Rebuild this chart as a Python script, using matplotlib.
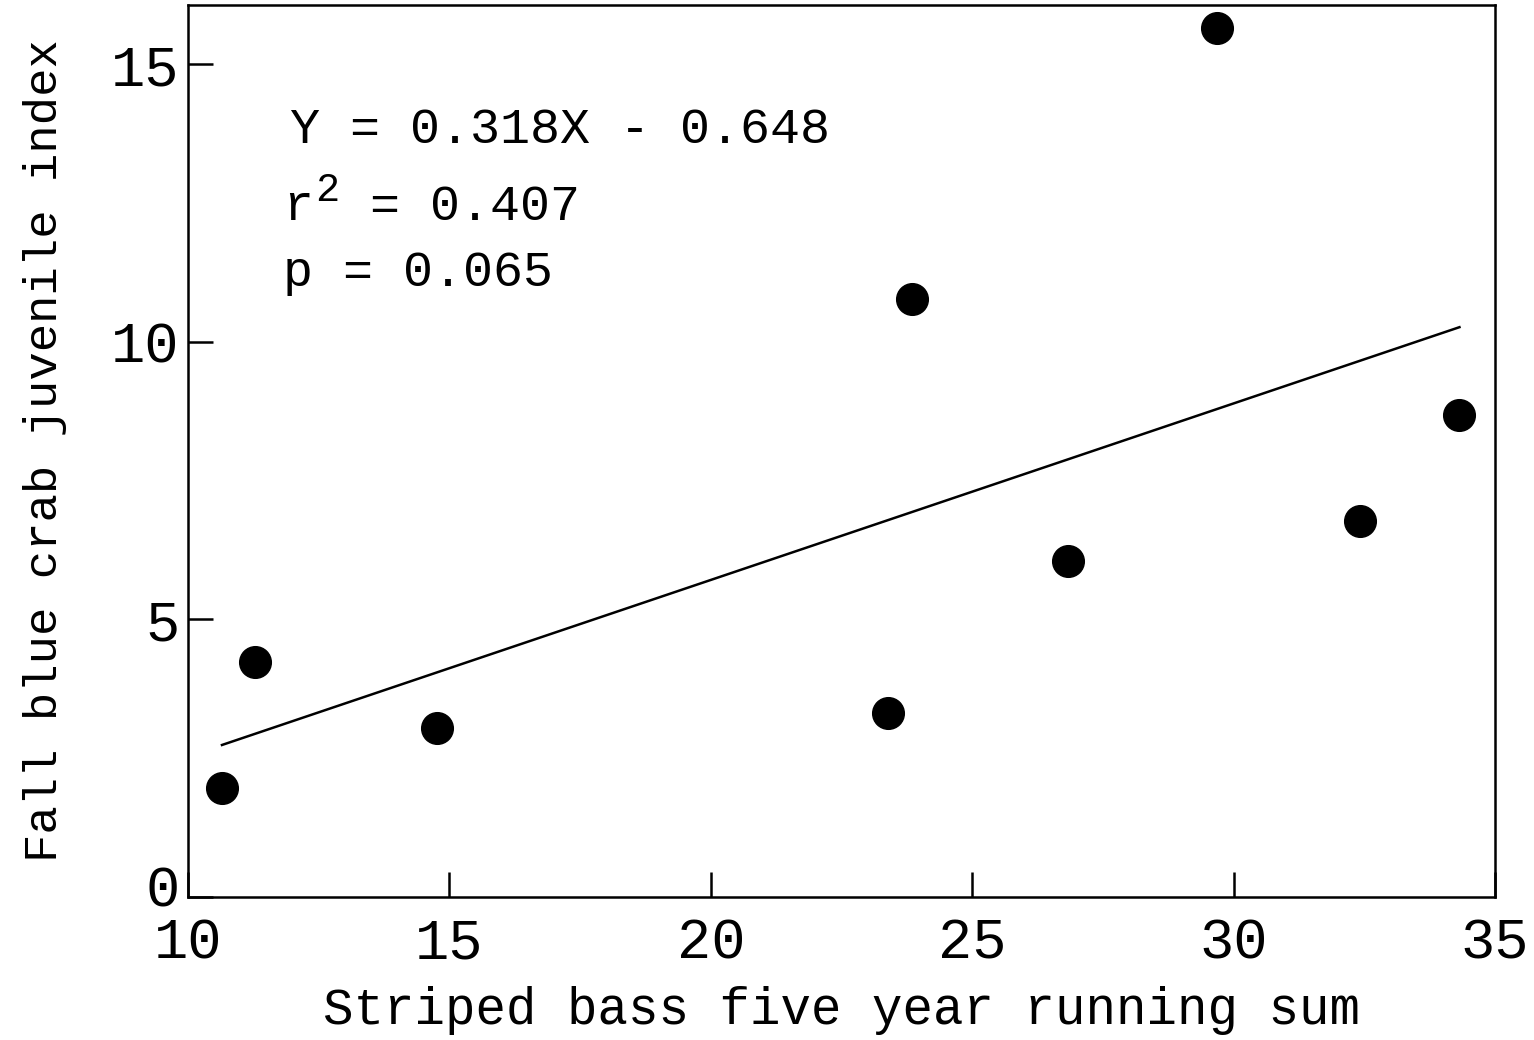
import matplotlib
matplotlib.use("Agg")
import matplotlib.pyplot as plt
import matplotlib.transforms as mtransforms
import numpy as np

bass_sum = [10.65, 11.28, 14.76, 23.38, 23.84, 26.83, 29.69, 32.41, 34.32]
crab_index = [1.96, 4.23, 3.04, 3.32, 10.77, 6.05, 15.66, 6.77, 8.68]
slope = 0.318
intercept = -0.648
x_ticks = [10, 15, 20, 25, 30, 35]
y_ticks = [0, 5, 10, 15]

plt.rcParams['font.family'] = ['Liberation Mono', 'DejaVu Sans Mono']

fig = plt.figure(figsize=(15.34, 10.4), dpi=100)
ax = fig.add_axes([188/1534, 1-897/1040, (1495-188)/1534, (897-5)/1040])

ax.scatter(bass_sum, crab_index, s=520, color='black', zorder=3)
xl = np.array([min(bass_sum), max(bass_sum)])
ax.plot(xl, slope*xl + intercept, color='black', lw=1.8)

ax.set_xlim(10, 35)
ax.set_ylim(0, 16.07)
ax.set_xticks(x_ticks)
ax.set_yticks(y_ticks)
ax.tick_params(direction='in', length=18, width=1.8, labelsize=41)
ax.tick_params(axis='x', pad=14)
ax.tick_params(axis='y', pad=6)
for s in ax.spines.values():
    s.set_linewidth(1.8)

ax.set_xlabel("Striped bass five year running sum", fontsize=36.5, labelpad=11)
ax.set_ylabel("Fall blue crab juvenile index", fontsize=34, labelpad=32)

# nudge the "0" y tick label up slightly so it clears the "10" x label
fig.canvas.draw()
lbl0 = ax.get_yticklabels()[0]
lbl0.set_transform(lbl0.get_transform() +
                   mtransforms.ScaledTranslation(0, 8/72, fig.dpi_scale_trans))

T = fig.transFigure
ax.text(290/1534, 1-130/1040, "Y = 0.318X - 0.648", transform=T,
        fontsize=36, va='center', ha='left')
ax.text(283/1534, 1-207/1040, "r", transform=T,
        fontsize=36, va='center', ha='left')
ax.text(315/1534, 1-190/1040, "2", transform=T,
        fontsize=29, va='center', ha='left')
ax.text(370/1534, 1-207/1040, "= 0.407", transform=T,
        fontsize=36, va='center', ha='left')
ax.text(283/1534, 1-273/1040, "p = 0.065", transform=T,
        fontsize=36, va='center', ha='left')

fig.savefig("out.png", dpi=100)
